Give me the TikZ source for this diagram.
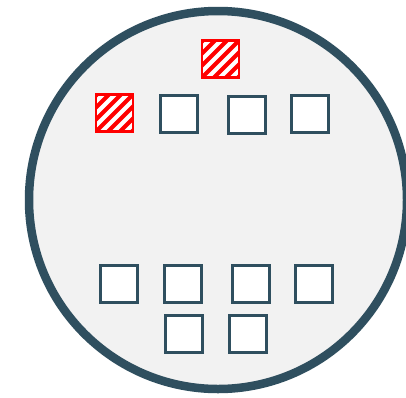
\documentclass[tikz,border=0pt]{standalone}
\definecolor{slate}{RGB}{47,79,95}
\definecolor{bgray}{RGB}{242,242,242}
\begin{document}
\begin{tikzpicture}[x=1pt,y=-1pt,
  seat/.style={draw=slate, line width=3pt, fill=white, minimum size=37pt, inner sep=0pt, rectangle},
  hatched/.style={draw=red, line width=2.5pt, fill=white, minimum size=37pt, inner sep=0pt, rectangle,
    path picture={
      \foreach \i in {-66,-54,...,66}{
        \draw[red, line width=4.2pt] ([xshift=\i pt, yshift=-30pt]path picture bounding box.center) -- ++(60pt,60pt);
      }
    }},
  table/.style={draw=slate, line width=8.5pt, fill=bgray, circle, minimum size=378pt, inner sep=0pt}
]
\useasboundingbox (0,0) rectangle (406,397);
\clip (0,0) rectangle (406,397);
\fill[white] (0,0) rectangle (406,397);
\node[table] (room) at (218,200) {};
\node[hatched] (top) at (220.5,59) {};
\node[hatched] (r1a) at (114.5,113) {};
\node[seat] (r1b) at (178.5,114) {};
\node[seat] (r1c) at (247,115) {};
\node[seat] (r1d) at (310,113.5) {};
\node[seat] (r2a) at (119,283.5) {};
\node[seat] (r2b) at (183,283.5) {};
\node[seat] (r2c) at (250.5,283.5) {};
\node[seat] (r2d) at (313.5,283.5) {};
\node[seat] (r3a) at (183.5,334) {};
\node[seat] (r3b) at (248,334) {};
\end{tikzpicture}
\end{document}
